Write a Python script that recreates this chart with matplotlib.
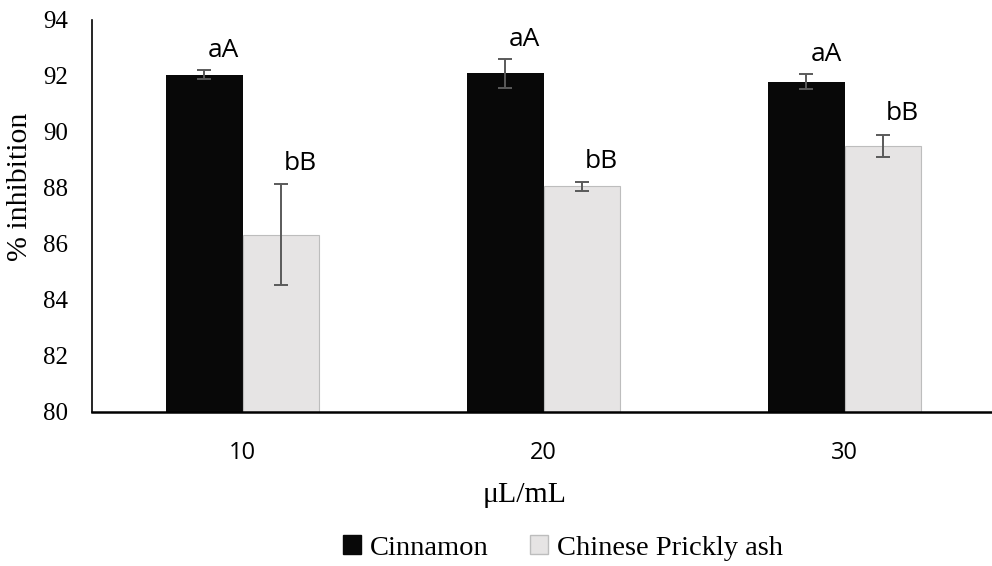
import matplotlib.pyplot as plt
import numpy as np
from matplotlib.patches import Patch

# inhibition data (mean +/- sd) per concentration
concentrations = ['10', '20', '30']
cinnamon = [92.05, 92.1, 91.8]
cinnamon_sd = [0.15, 0.52, 0.27]
prickly_ash = [86.33, 88.06, 89.5]
prickly_ash_sd = [1.8, 0.15, 0.4]
cinnamon_letters = ['aA', 'aA', 'aA']
prickly_ash_letters = ['bB', 'bB', 'bB']

black = '#080808'
light = '#e6e4e4'

fig = plt.figure(figsize=(9.92, 5.66), dpi=100)
ax = fig.add_axes([92 / 992, 154 / 566, 900 / 992, 392 / 566])

x = np.arange(len(concentrations))
w = 0.253
err_kw = dict(ecolor='#5a5a5a', elinewidth=1.4, capsize=5, capthick=1.4)

ax.bar(x - w / 2, cinnamon, w, yerr=cinnamon_sd, color=black,
       error_kw=err_kw, zorder=2)
ax.bar(x + w / 2, prickly_ash, w, yerr=prickly_ash_sd, color=light,
       edgecolor='#bdbdbd', linewidth=0.8, error_kw=err_kw, zorder=2)

# significance letters above the error bars
for i in range(len(x)):
    ax.annotate(cinnamon_letters[i], (x[i] - w / 2, cinnamon[i] + cinnamon_sd[i]),
                xytext=(14, 14), textcoords='offset points', ha='center', va='center',
                fontsize=19, family='Open Sans')
    ax.annotate(prickly_ash_letters[i], (x[i] + w / 2, prickly_ash[i] + prickly_ash_sd[i]),
                xytext=(14, 15), textcoords='offset points', ha='center', va='center',
                fontsize=19, family='Open Sans')

ax.set_xlim(-0.5, 2.49)
ax.set_ylim(80, 94)
ax.set_yticks(range(80, 95, 2))
ax.set_xticks(x)
ax.set_xticklabels(concentrations, family='Open Sans', fontsize=17)
for lab in ax.get_yticklabels():
    lab.set_family('Liberation Serif')
    lab.set_fontsize(18)
ax.tick_params(axis='both', length=0)
ax.tick_params(axis='x', pad=21)
ax.tick_params(axis='y', pad=17)

ax.spines['top'].set_visible(False)
ax.spines['right'].set_visible(False)
ax.spines['bottom'].set_linewidth(1.8)
ax.spines['left'].set_linewidth(1.2)

ax.set_ylabel('% inhibition', family='Liberation Serif', fontsize=21.5)
ax.yaxis.set_label_coords(-0.066, 0.574)
ax.set_xlabel('\u03bcL/mL', family='Liberation Serif', fontsize=21.5)
ax.xaxis.set_label_coords(0.481, -0.178)

handles = [Patch(facecolor=black, edgecolor=black, label='Cinnamon'),
           Patch(facecolor=light, edgecolor='#bdbdbd', label='Chinese Prickly ash')]
fig.legend(handles=handles, loc='center', bbox_to_anchor=(563 / 992, 1 - 548 / 566), ncol=2,
           frameon=False, prop={'family': 'Liberation Serif', 'size': 20.5},
           handlelength=0.62, handleheight=0.62, handletextpad=0.32, columnspacing=1.45)

fig.savefig('out.png', dpi=100)
